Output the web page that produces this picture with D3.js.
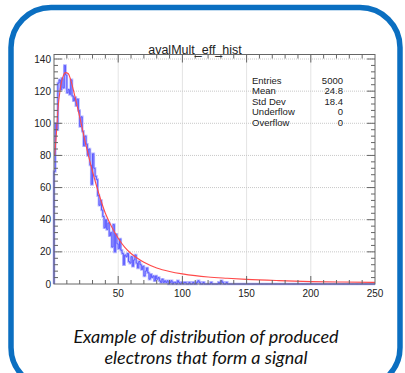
<!DOCTYPE html>
<html><head><meta charset="utf-8">
<script src="https://cdn.jsdelivr.net/npm/d3@7"></script>
<style>
html,body{margin:0;padding:0;background:#fff;}
svg{display:block;}
</style></head>
<body>
<svg id="c" width="405" height="373"></svg>
<script>
// ---- data ----
const title = "avalMult_eff_hist";
const binEdgesStart = 0;      // first bin lower edge
const binWidth = 1;
const counts = [
  70,100,96,125,127,121,128,122,136,130,
  119,121,118,127,117,114,116,111,115,108,
  98,104,95,86,92,87,80,84,74,62,
  81,72,67,65,55,49,52,46,42,35,
  40,34,38,30,32,23,37,20,31,25,
  22,28,21,19,12,18,17,19,14,13,
  17,11,15,18,13,10,14,12,9,11,
  5,8,10,7,3,6,4,5,2,5,
  3,4,2,1,3,1,2,1,2,0,
  1,2,0,1,1,0,2,1,0,1,
  0,1,1,0,0,1,0,0,1,0,
  0,1,2,1,0,0,1,0,0,0,
  0,0,1,0,0,0,0,0,1,0,
  2,1,0,0,1,0,0,0,0,0,
  0,0,0,0,0,0,0,0,0,0,
  0,0,0,0,0,0,0,0,0,0,
  0,0,0,0,0,0,0,0,0,0,
  0,0,0,0,0,0,0,0,0,0,
  0,0,0,0,0,0,0,0,0,0,
  0,0,0,0,0,0,0,0,0,0,
  0,0,0,0,0,0,0,0,0,0,
  0,0,0,0,0,0,0,0,0,0,
  0,0,0,0,0,0,0,0,0,0,
  0,0,0,0,0,0,0,0,0,0,
  0,0,0,0,0,0,0,0,0,0
];
const fitX = [0.5,2,3,5,7,9,11,13,15,20,25,30,35,40,45,50,55,60,65,70,80,90,100,110,120,135,150,175,200,225,250];
const fitY = [80,95,108,122,129,131.5,131,127,121,104,86,70,56,44,35.5,28.5,23,19,16,13.5,10,7.8,6.3,5.2,4.4,3.6,2.9,2.1,1.5,1.2,1.0];
const xTicks = [50,100,150,200,250];
const yTicks = [0,20,40,60,80,100,120,140];
const statsLabels = ["Entries","Mean","Std Dev","Underflow","Overflow"];
const statsValues = ["5000","24.8","18.4","0","0"];
const caption = ["Example of distribution of produced","electrons that form a signal"];

// ---- drawing ----
const svg = d3.select("#c");
svg.append("rect").attr("x",11).attr("y",7.5).attr("width",389).attr("height",380)
  .attr("rx",40).attr("ry",40).attr("fill","#fff").attr("stroke","#0b6fc1").attr("stroke-width",5.5);

const L=54, R=375, T=54.5, B=284;
const x = d3.scaleLinear().domain([0,250]).range([L,R]);
const y = d3.scaleLinear().domain([0,142.8]).range([B,T]);

// grid
const g = svg.append("g");
g.selectAll(".vg").data(xTicks.filter(d=>d<250)).join("line")
  .attr("x1",d=>x(d)).attr("x2",d=>x(d)).attr("y1",T).attr("y2",B)
  .attr("stroke","#c8c8c8").attr("stroke-width",1).attr("stroke-dasharray","1,1");
g.selectAll(".hg").data(yTicks.filter(d=>d>0)).join("line")
  .attr("x1",L).attr("x2",R).attr("y1",d=>y(d)).attr("y2",d=>y(d))
  .attr("stroke","#c8c8c8").attr("stroke-width",1).attr("stroke-dasharray","1,1");

// histogram step path
const stepPts = [];
counts.forEach((c,i)=>{
  const x0 = binEdgesStart + i*binWidth;
  stepPts.push([x0,c]); stepPts.push([x0+binWidth,c]);
});
stepPts.unshift([binEdgesStart,0]);
const histLine = d3.line().x(d=>x(d[0])).y(d=>y(d[1]));
svg.append("path").attr("d",histLine(stepPts)).attr("fill","none")
  .attr("stroke","#b8b8ff").attr("stroke-width",2.6);
svg.append("path").attr("d",histLine(stepPts)).attr("fill","none")
  .attr("stroke","#5a5aff").attr("stroke-width",1);

// fit curve
const fitLine = d3.line().x((d,i)=>x(fitX[i])).y(d=>y(d)).curve(d3.curveMonotoneX);
svg.append("path").attr("d",fitLine(fitY)).attr("fill","none")
  .attr("stroke","#ff4a4a").attr("stroke-width",1.1);

// frame
svg.append("rect").attr("x",L).attr("y",T).attr("width",R-L).attr("height",B-T)
  .attr("fill","none").attr("stroke","#666").attr("stroke-width",1);

// ticks (ROOT style, inside, all sides)
const tg = svg.append("g").attr("stroke","#666").attr("stroke-width",1);
const xMinor = d3.range(10,250,10);
xMinor.forEach(v=>{
  const major = v%50===0; const len = major?8:4;
  tg.append("line").attr("x1",x(v)).attr("x2",x(v)).attr("y1",B).attr("y2",B-len);
  tg.append("line").attr("x1",x(v)).attr("x2",x(v)).attr("y1",T).attr("y2",T+len);
});
const yMinor = d3.range(4,142,4);
yMinor.forEach(v=>{
  const major = v%20===0; const len = major?8:4;
  tg.append("line").attr("x1",L).attr("x2",L+len).attr("y1",y(v)).attr("y2",y(v));
  tg.append("line").attr("x1",R).attr("x2",R-len).attr("y1",y(v)).attr("y2",y(v));
});

// axis labels
const font = "'Liberation Sans', Arial, Helvetica, sans-serif";
svg.append("g").selectAll("text").data(xTicks).join("text")
  .attr("x",d=>x(d)).attr("y",B+13).attr("text-anchor","middle")
  .attr("font-family",font).attr("font-size",10).attr("fill","#222").text(d=>d);
svg.append("g").selectAll("text").data(yTicks).join("text")
  .attr("x",L-3).attr("y",d=>y(d)+3.5).attr("text-anchor","end")
  .attr("font-family",font).attr("font-size",10).attr("fill","#222").text(d=>d);

// title
svg.append("text").attr("x",195).attr("y",54).attr("text-anchor","middle")
  .attr("font-family",font).attr("font-size",12.5).attr("fill","#222").text(title);

// stats
statsLabels.forEach((s,i)=>{
  svg.append("text").attr("x",252).attr("y",83.5+i*10.6).attr("font-family",font)
    .attr("font-size",9.5).attr("fill","#222").text(s);
  svg.append("text").attr("x",343).attr("y",83.5+i*10.6).attr("text-anchor","end").attr("font-family",font)
    .attr("font-size",9.5).attr("fill","#222").text(statsValues[i]);
});

// caption
caption.forEach((s,i)=>{
  svg.append("text").attr("x",206).attr("y",343+i*21).attr("text-anchor","middle")
    .attr("font-family","Lato, 'Open Sans', sans-serif").attr("font-style","italic")
    .attr("font-size",18).attr("fill","#111").text(s);
});
</script>
</body></html>
